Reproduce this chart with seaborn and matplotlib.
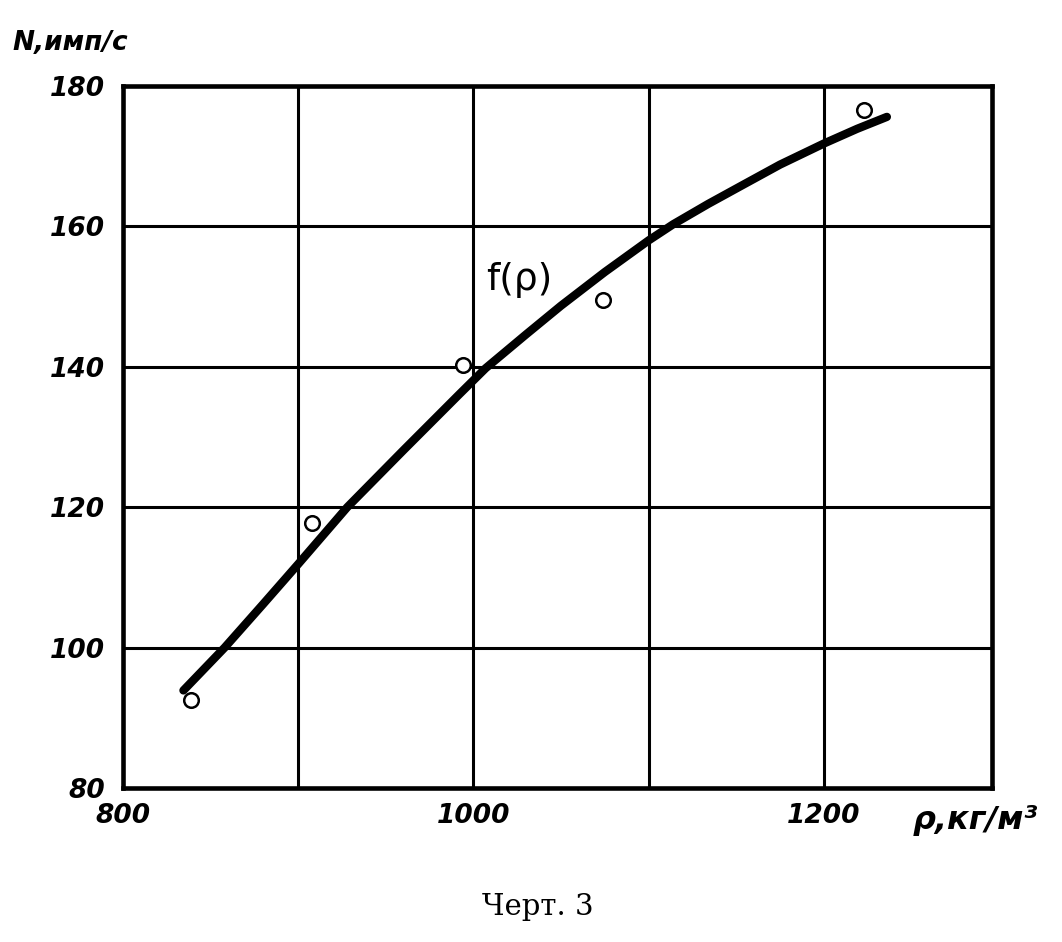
import pandas as pd
import matplotlib
matplotlib.use("Agg")
import matplotlib.pyplot as plt
import seaborn as sns

# Measured points (rho, kg/m3 -> N, imp/s)
rho_pts = [839, 908, 994, 1074, 1223]
n_pts = [92.5, 117.7, 140.3, 149.5, 176.6]

# Hand-drawn curve f(rho)
rho_curve = [834.5, 858, 880, 900, 928, 960, 992, 1007, 1030, 1050, 1075,
             1100, 1114, 1134, 1153, 1175, 1200, 1219, 1236]
n_curve = [93.9, 100, 106.2, 111.9, 120, 128.1, 136.1, 139.8, 144.6, 148.7, 153.5,
           158.0, 160.3, 163.2, 165.8, 168.8, 171.8, 173.9, 175.6]

x_ticks = [800, 900, 1000, 1100, 1200]
x_ticklabels = ["800", "", "1000", "", "1200"]
y_ticks = [80, 100, 120, 140, 160, 180]
y_ticklabels = ["80", "100", "120", "140", "160", "180"]

pts = pd.DataFrame({"rho": rho_pts, "N": n_pts})
curve = pd.DataFrame({"rho": rho_curve, "N": n_curve})

sns.set_style("whitegrid")
plt.rcParams['font.family'] = ['DejaVu Sans']
plt.rcParams['text.color'] = 'black'

fig = plt.figure(figsize=(10.62, 9.42), dpi=100)
ax = fig.add_axes([123 / 1062, 1 - 788 / 942, 869 / 1062, 702 / 942])

sns.lineplot(data=curve, x="rho", y="N", sort=False, estimator=None,
             color="black", linewidth=6, ax=ax, zorder=3,
             solid_joinstyle="round", solid_capstyle="round")
sns.scatterplot(data=pts, x="rho", y="N", s=110, facecolor="white",
                edgecolor="black", linewidth=1.8, ax=ax, zorder=4)

ax.set_xlim(800, 1296)
ax.set_ylim(80, 180)
ax.set_xticks(x_ticks)
ax.set_xticklabels(x_ticklabels)
ax.set_yticks(y_ticks)
ax.set_yticklabels(y_ticklabels)
ax.grid(True, color="black", linewidth=2.2)
ax.set_axisbelow(True)
for s in ax.spines.values():
    s.set_visible(True)
    s.set_color("black")
    s.set_linewidth(3.3)
ax.tick_params(length=0, labelsize=19, colors="black")
ax.tick_params(axis="y", pad=13)
ax.tick_params(axis="x", pad=11)
for lab in ax.get_xticklabels() + ax.get_yticklabels():
    lab.set_fontstyle("italic")
    lab.set_fontweight("bold")
ax.set_xlabel("")
ax.set_ylabel("")

ax.text(-0.127, 1.061, "N,имп/с", transform=ax.transAxes, ha="left", va="center",
        fontsize=19, fontstyle="italic", fontweight="bold", color="black")
ax.text(0.909, -0.047, "ρ,кг/м³", transform=ax.transAxes, ha="left", va="center",
        fontsize=23, fontstyle="italic", fontweight="bold", color="black")
ax.text(1026, 152.4, "f(ρ)", ha="center", va="center", fontsize=27, color="black")

fig.text(538 / 1062, 1 - 907 / 942, "Черт. 3", ha="center", va="center",
         fontsize=21, family=["DejaVu Serif"], color="black")

fig.savefig("out.png", dpi=100, facecolor="white")
